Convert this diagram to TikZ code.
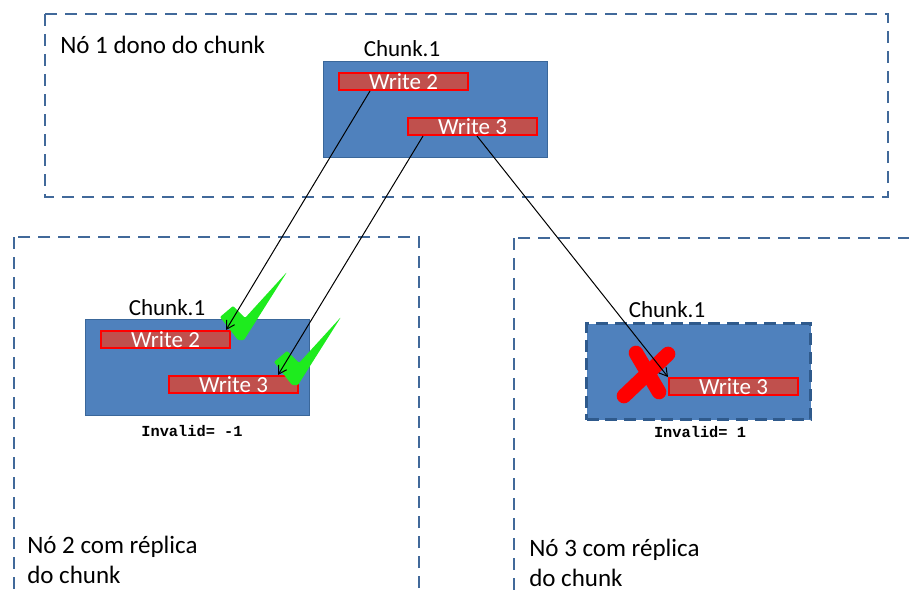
\documentclass[tikz,border=0pt]{standalone}
\usepackage{fontspec}
\setmainfont{Carlito}
\newfontfamily\codefont{Liberation Mono}
\usetikzlibrary{arrows.meta,calc}

\definecolor{chunkblue}{HTML}{4F81BD}
\definecolor{chunkedge}{HTML}{3A679A}
\definecolor{nodedash}{HTML}{41699A}
\definecolor{replicadash}{HTML}{2F5A8C}
\definecolor{barfill}{HTML}{C0504D}
\definecolor{barred}{HTML}{FF0000}
\definecolor{okgreen}{HTML}{1EEB1E}

\begin{document}
\begin{tikzpicture}[x=0.75pt,y=-0.75pt,
  nodebox/.style={draw=nodedash, line width=2.1pt, dash pattern=on 9pt off 6pt},
  chunkbox/.style={draw=chunkedge, fill=chunkblue, line width=1.1pt,
    anchor=north west, inner sep=0pt, minimum width=224*0.75pt, minimum height=96*0.75pt},
  replicabox/.style={chunkbox, draw=replicadash, line width=2.3pt, dash pattern=on 9pt off 5pt},
  writebar/.style={draw=barred, fill=barfill, line width=1.5pt, text=white,
    anchor=north west, inner sep=0pt, minimum width=129*0.75pt, minimum height=17*0.75pt,
    font=\fontsize{17.25}{17.25}\selectfont},
  chunklabel/.style={anchor=base, inner sep=0pt, font=\fontsize{17.25}{17.25}\selectfont},
  nodelabel/.style={anchor=base west, inner sep=0pt, align=left,
    font=\fontsize{18.75}{22.5}\selectfont},
  invalidlabel/.style={anchor=base, inner sep=0pt, font=\codefont\bfseries\fontsize{11.5}{11.5}\selectfont},
  writeflow/.style={line width=0.75pt, -{Straight Barb[length=6pt,width=7pt]}},
  tick/.style={fill=okgreen, draw=none, rounded corners=0.8pt},
  cross/.style={draw=barred, line width=11pt, line cap=round}
]
\useasboundingbox (0,0) rectangle (909,592);
\clip (0,0) rectangle (909,592);

% dashed outlines of the three storage nodes
\draw[nodebox] (45,14) rectangle (888,197);
\draw[nodebox] (14,237) rectangle (419,620);
\draw[nodebox] (514,238) rectangle (940,620);

% node labels (base anchor sits on the last line)
\node[nodelabel] (n1) at (60,54) {Nó 1 dono do chunk};
\node[nodelabel] (n2) at (27,583) {Nó 2 com réplica\\do chunk};
\node[nodelabel] (n3) at (529,586) {Nó 3 com réplica\\do chunk};

% owner chunk
\node[chunkbox] (ca) at (323,61) {};
\node[chunklabel] (cal) at (402,57) {Chunk.1};
\node[writebar] (w2a) at (338,72) {Write 2};
\node[writebar] (w3a) at (407,117) {Write 3};

% replica on node 2
\node[chunkbox] (cb) at (85,319) {};
\node[chunklabel] (cbl) at (167,315) {Chunk.1};
\node[writebar] (w2b) at (100,330) {Write 2};
\node[writebar] (w3b) at (168,375) {Write 3};
\node[invalidlabel] (ib) at (192,436) {Invalid= -1};

% replica on node 3
\node[replicabox] (cc) at (585,322) {};
\node[chunklabel] (ccl) at (667,317) {Chunk.1};
\node[writebar] (w3c) at (668,377) {Write 3};
\node[invalidlabel] (ic) at (700,437) {Invalid= 1};

% rejected write
\draw[cross] (636,353) -- (659,392);
\draw[cross] (668,354) -- (624,396);

% accepted writes
\fill[tick] (220,317) -- (233,306) -- (245,318) -- (287,272) -- (244,340) -- (238,340) -- cycle;
\begin{scope}[shift={(54,45)}]
  \fill[tick] (220,317) -- (233,306) -- (245,318) -- (287,272) -- (244,340) -- (238,340) -- cycle;
\end{scope}

% write propagation
\draw[writeflow] ($(w2a.south west)+(32,0)$) -- ($(w2b.north east)+(-5,0)$);
\draw[writeflow] ($(w3a.south west)+(16,0)$) -- ($(w3b.north east)+(-21,0)$);
\draw[writeflow] ($(w3a.south west)+(70,0)$) -- (w3c.north west);
\end{tikzpicture}
\end{document}
